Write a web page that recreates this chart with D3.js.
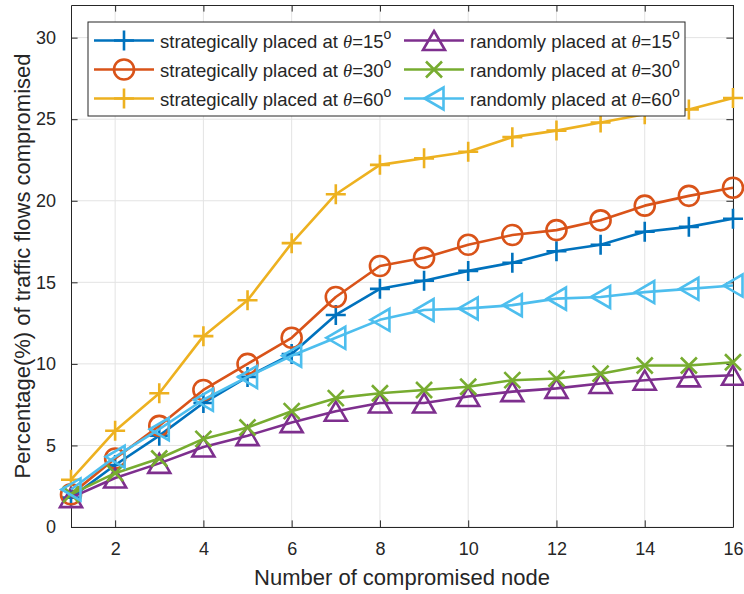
<!DOCTYPE html>
<html><head><meta charset="utf-8">
<script src="https://cdn.jsdelivr.net/npm/d3@7"></script>
<style>body{margin:0;background:#fff}</style>
</head><body><svg id="c" width="744" height="594"></svg>
<script>
// ---- data ----
const nodes = [1,2,3,4,5,6,7,8,9,10,11,12,13,14,15,16];
const strat15 = [1.8,3.8,5.6,7.6,9.2,10.6,13.0,14.6,15.1,15.7,16.2,16.9,17.3,18.1,18.4,18.9];
const strat30 = [2.0,4.2,6.2,8.4,10.0,11.6,14.1,16.0,16.5,17.3,17.9,18.2,18.8,19.7,20.3,20.8];
const strat60 = [2.9,5.9,8.2,11.7,13.9,17.4,20.4,22.2,22.6,23.0,23.9,24.3,24.8,25.3,25.6,26.3];
const rand15  = [1.8,3.0,3.9,4.9,5.6,6.4,7.1,7.6,7.6,8.0,8.3,8.5,8.8,9.0,9.2,9.3];
const rand30  = [2.0,3.3,4.2,5.4,6.1,7.1,7.9,8.2,8.4,8.6,9.0,9.1,9.4,9.9,9.9,10.1];
const rand60  = [2.3,4.3,6.0,7.8,9.2,10.5,11.6,12.7,13.3,13.4,13.6,14.0,14.1,14.4,14.6,14.8];
const seriesNames = ["strategically placed at ","strategically placed at ","strategically placed at ","randomly placed at ","randomly placed at ","randomly placed at "];
const seriesAngles = ["15","30","60","15","30","60"];
const seriesColors = ["#0072BD","#D95319","#EDB120","#7E2F8E","#77AC30","#4DBEEE"];
const seriesMarkers = ["plus","circle","plus","triUp","cross","triLeft"];
const xTicks = [2,4,6,8,10,12,14,16];
const yTicks = [0,5,10,15,20,25,30];
const xLabel = "Number of compromised node";
const yLabel = "Percentage(%) of traffic flows compromised";

const seriesData = [strat15,strat30,strat60,rand15,rand30,rand60];

const svg = d3.select("#c");
const FONT = "'Liberation Sans', Arial, Helvetica, sans-serif";
const L = 71, R = 733, T = 5, B = 527;
const x = d3.scaleLinear().domain([1,16]).range([L,R]);
const y = d3.scaleLinear().domain([0,32]).range([B,T]);
const axisCol = "#262626";

// grid
const g = svg.append("g");
g.selectAll(".gx").data(xTicks).enter().append("line")
  .attr("x1",d=>x(d)).attr("x2",d=>x(d)).attr("y1",T).attr("y2",B)
  .attr("stroke","#e3e3e3").attr("stroke-width",1);
g.selectAll(".gy").data(yTicks).enter().append("line")
  .attr("x1",L).attr("x2",R).attr("y1",d=>y(d)).attr("y2",d=>y(d))
  .attr("stroke","#e3e3e3").attr("stroke-width",1);

// axes with inward ticks
const tl = 6.6;
const axB = svg.append("g").attr("transform",`translate(0,${B})`)
  .call(d3.axisBottom(x).tickValues(xTicks).tickSizeInner(-tl).tickSizeOuter(0).tickPadding(15));
const axT = svg.append("g").attr("transform",`translate(0,${T})`)
  .call(d3.axisTop(x).tickValues(xTicks).tickSizeInner(-tl).tickSizeOuter(0).tickFormat(""));
const axL = svg.append("g").attr("transform",`translate(${L},0)`)
  .call(d3.axisLeft(y).tickValues(yTicks).tickSizeInner(-tl).tickSizeOuter(0).tickPadding(15));
const axR = svg.append("g").attr("transform",`translate(${R},0)`)
  .call(d3.axisRight(y).tickValues(yTicks).tickSizeInner(-tl).tickSizeOuter(0).tickFormat(""));
[axB,axT,axL,axR].forEach(a=>{
  a.select(".domain").attr("stroke",axisCol).attr("stroke-width",1);
  a.selectAll(".tick line").attr("stroke",axisCol).attr("stroke-width",1);
  a.selectAll("text").attr("fill",axisCol).style("font-family",FONT).style("font-size","18px");
});
axB.selectAll("text").attr("dy","0.71em");

// marker paths
function markerPath(type){
  switch(type){
    case "plus": return "M-10,0H10M0,-10V10";
    case "cross": return "M-8,-8L8,8M-8,8L8,-8";
    case "triUp": return "M0,-9.5L11,9.5L-11,9.5Z";
    case "triLeft": return "M-9.5,0L9.5,-11L9.5,11Z";
  }
}
function drawMarker(sel, type, color){
  if(type==="circle"){
    sel.append("circle").attr("r",10).attr("fill","none").attr("stroke",color).attr("stroke-width",2.6);
  } else {
    sel.append("path").attr("d",markerPath(type)).attr("fill","none").attr("stroke",color)
      .attr("stroke-width",2.6).attr("stroke-linejoin","miter");
  }
}

const line = d3.line().x((d,i)=>x(nodes[i])).y(d=>y(d));
seriesData.forEach((vals,si)=>{
  const col = seriesColors[si];
  const sg = svg.append("g");
  sg.append("path").datum(vals).attr("d",line).attr("fill","none")
    .attr("stroke",col).attr("stroke-width",2.6).attr("stroke-linejoin","round");
  vals.forEach((v,i)=>{
    const m = sg.append("g").attr("transform",`translate(${x(nodes[i])},${y(v)})`);
    drawMarker(m, seriesMarkers[si], col);
  });
});

// axis labels
svg.append("text").attr("x",(L+R)/2).attr("y",585).attr("text-anchor","middle")
  .attr("fill",axisCol).style("font-family",FONT).style("font-size","22px").text(xLabel);
svg.append("text").attr("transform",`translate(30,${(T+B)/2}) rotate(-90)`).attr("text-anchor","middle")
  .attr("fill",axisCol).style("font-family",FONT).style("font-size","22px").text(yLabel);

// legend
const lg = svg.append("g");
lg.append("rect").attr("x",88).attr("y",22).attr("width",685-88).attr("height",116-22)
  .attr("fill","#fff").attr("stroke",axisCol).attr("stroke-width",1);
const rowsY = [40.5,69.5,98.5];
const colX = [94,404];
seriesData.forEach((vals,si)=>{
  const col = Math.floor(si/3), row = si%3;
  const x0 = colX[col], yy = rowsY[row];
  const c = seriesColors[si];
  lg.append("line").attr("x1",x0).attr("x2",x0+60).attr("y1",yy).attr("y2",yy)
    .attr("stroke",c).attr("stroke-width",2.6);
  const m = lg.append("g").attr("transform",`translate(${x0+30},${yy})`);
  drawMarker(m, seriesMarkers[si], c);
  const t = lg.append("text").attr("x",x0+66).attr("y",yy+7).attr("fill",axisCol)
    .style("font-family",FONT).style("font-size","18.5px");
  t.append("tspan").text(seriesNames[si]);
  t.append("tspan").style("font-family","'Liberation Serif','DejaVu Serif',serif").style("font-style","italic").text("θ");
  t.append("tspan").text("="+seriesAngles[si]);
  t.append("tspan").attr("dy",-9).style("font-size","14px").text("o");
});
</script></body></html>
